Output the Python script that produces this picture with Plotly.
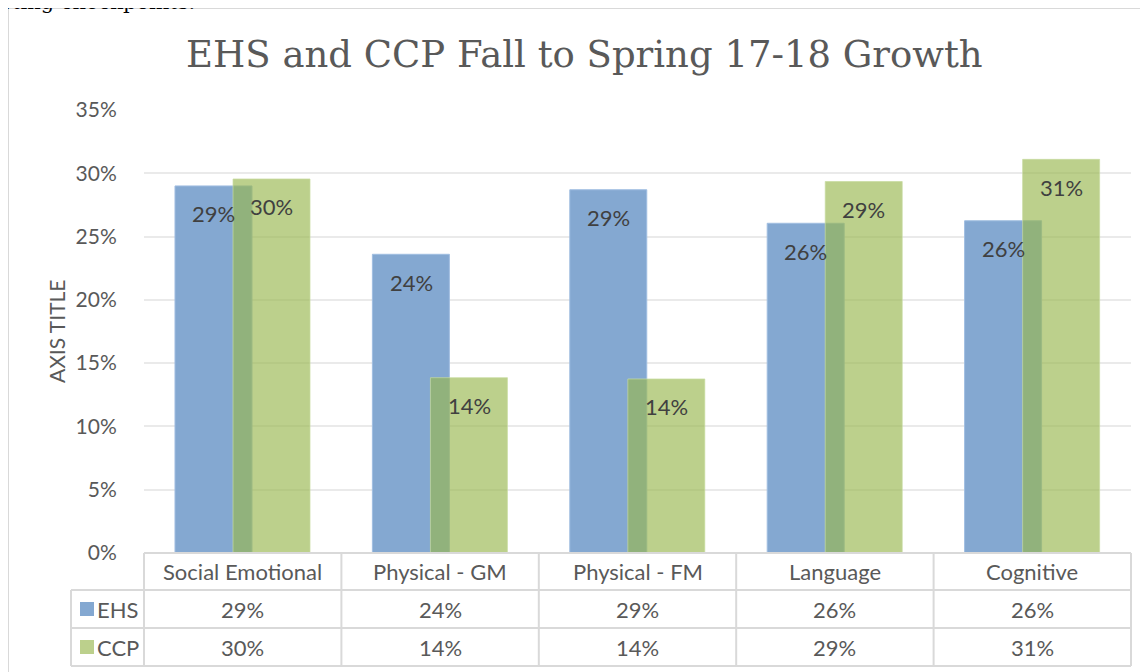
import plotly.graph_objects as go

categories = ["Social Emotional", "Physical - GM", "Physical - FM", "Language", "Cognitive"]
series_names = ["EHS", "CCP"]
ehs = [29.0, 23.6, 28.7, 26.05, 26.25]
ccp = [29.55, 13.85, 13.75, 29.35, 31.1]
y_ticks = [0, 5, 10, 15, 20, 25, 30, 35]

OFF = 8                      # page body margin
W, H = 1148 - OFF, 672 - OFF
PL, PR, PT, PB = 144, 1131, 110, 553   # plot area in screen pixels
ROWS = [553, 590, 628, 666]
LEG_X = 71

BLUE = "rgb(132,168,209)"
GREEN = "rgba(152,183,78,0.65)"
GREEN_KEY = "rgb(188,208,140)"
GRID = "#EAEAEA"
LINE = "#D9D9D9"
TXT = "#595959"
FONT = "Lato"

def px(x):
    return (x - OFF) / W

def py(y):
    return 1 - (y - OFF) / H

fig = go.Figure()
bw = 0.39
fig.add_trace(go.Bar(x=categories, y=ehs, name="EHS", width=bw, offset=-0.343,
                     marker=dict(color=BLUE, line=dict(color="rgba(160,190,225,1)", width=1)),
                     showlegend=False, hoverinfo="y"))
fig.add_trace(go.Bar(x=categories, y=ccp, name="CCP", width=bw, offset=-0.049,
                     marker=dict(color=GREEN, line=dict(color="rgba(200,220,160,0.7)", width=1)),
                     showlegend=False, hoverinfo="y"))

def note(x, y, text, size=22, color=TXT, family=FONT, xanchor="center", yanchor="middle", **kw):
    return dict(x=x, y=y, text=text, showarrow=False, xanchor=xanchor, yanchor=yanchor,
                font=dict(family=family, size=size, color=color), **kw)

annotations = []
for i, c in enumerate(categories):
    for vals, xs in ((ehs, -29), (ccp, 29)):
        annotations.append(note(c, vals[i], f"{round(vals[i])}%", size=22, color="#404040",
                                xref="x", yref="y", yshift=-28, xshift=xs))

shapes = []
colw = (PR - PL) / len(categories)
for yy in ROWS:
    x0 = PL if yy == ROWS[0] else LEG_X
    shapes.append(dict(type="line", xref="paper", yref="paper", x0=px(x0), x1=px(PR),
                       y0=py(yy), y1=py(yy), line=dict(color=LINE, width=2)))
shapes.append(dict(type="line", xref="paper", yref="paper", x0=px(LEG_X), x1=px(LEG_X),
                   y0=py(ROWS[1]), y1=py(ROWS[3]), line=dict(color=LINE, width=2)))
for k in range(len(categories) + 1):
    xx = PL + k * colw
    shapes.append(dict(type="line", xref="paper", yref="paper", x0=px(xx), x1=px(xx),
                       y0=py(ROWS[0]), y1=py(ROWS[3]), line=dict(color=LINE, width=2)))
for k, c in enumerate(categories):
    cx = PL + (k + 0.5) * colw
    annotations.append(note(px(cx), py((ROWS[0] + ROWS[1]) / 2), c, xref="paper", yref="paper"))
    for r, vals in enumerate((ehs, ccp)):
        annotations.append(note(px(cx), py((ROWS[r + 1] + ROWS[r + 2]) / 2), f"{round(vals[k])}%",
                                xref="paper", yref="paper"))
for r, (nm, col) in enumerate(zip(series_names, (BLUE, GREEN_KEY))):
    cy = (ROWS[r + 1] + ROWS[r + 2]) / 2
    shapes.append(dict(type="rect", xref="paper", yref="paper", x0=px(80), x1=px(94),
                       y0=py(cy - 7), y1=py(cy + 7), fillcolor=col, line=dict(width=0)))
    annotations.append(note(px(95), py(cy), nm, xanchor="left", xref="paper", yref="paper"))

shapes.append(dict(type="rect", xref="paper", yref="paper", x0=px(8), x1=px(1160),
                   y0=py(8), y1=py(690), line=dict(color=LINE, width=2), layer="below"))

annotations.append(note(px(584), py(55), "EHS and CCP Fall to Spring 17-18 Growth", size=37,
                        family="DejaVu Serif", xref="paper", yref="paper"))
annotations.append(note(px(0), py(16), "rting checkpoints.", size=21, color="black",
                        family="DejaVu Serif", xanchor="left", yanchor="bottom",
                        xref="paper", yref="paper"))
annotations.append(note(px(56), py(332), "AXIS TITLE", size=21, textangle=-90,
                        xref="paper", yref="paper"))

fig.update_layout(
    width=W, height=H, margin=dict(l=0, r=0, t=0, b=0, autoexpand=False),
    paper_bgcolor="white", plot_bgcolor="white",
    barmode="overlay", showlegend=False,
    xaxis=dict(domain=[px(PL), px(PR)], showticklabels=False, showgrid=False, automargin=False,
               zeroline=False, showline=False, ticks=""),
    yaxis=dict(domain=[py(PB), py(PT)], range=[0, 35], tickvals=y_ticks, automargin=False,
               ticktext=[f"{t}%" for t in y_ticks], showgrid=True, gridcolor=GRID,
               gridwidth=1.5, zeroline=False, showline=False, ticks="outside",
               ticklen=22, tickcolor="rgba(0,0,0,0)",
               tickfont=dict(family=FONT, size=21, color=TXT)),
    shapes=shapes, annotations=annotations,
)
fig.write_html("out.html")
